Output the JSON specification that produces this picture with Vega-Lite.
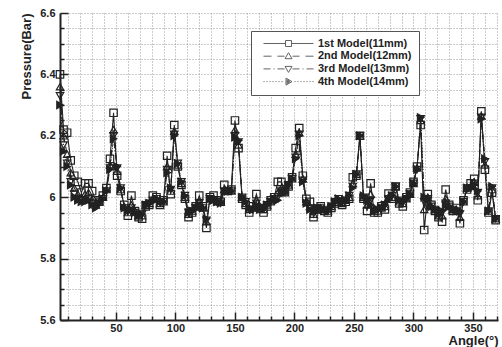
{
  "$schema": "https://vega.github.io/schema/vega-lite/v6.json",
  "width": 438,
  "height": 307,
  "autosize": {"type": "none"},
  "padding": {"left": 60, "top": 13, "right": 4, "bottom": 27},
  "background": "white",
  "config": {"view": {"stroke": null}, "font": "Liberation Sans"},
  "data": {
    "values": [
      {"a":3,"m":"1st Model(11mm)","p":6.40},{"a":6,"m":"1st Model(11mm)","p":6.22},{"a":9,"m":"1st Model(11mm)","p":6.21},{"a":12,"m":"1st Model(11mm)","p":6.12},{"a":15,"m":"1st Model(11mm)","p":6.07},{"a":18,"m":"1st Model(11mm)","p":6.05},{"a":21,"m":"1st Model(11mm)","p":6.015},{"a":24,"m":"1st Model(11mm)","p":6.045},{"a":27,"m":"1st Model(11mm)","p":6.045},{"a":30,"m":"1st Model(11mm)","p":6.02},{"a":33,"m":"1st Model(11mm)","p":5.99},{"a":36,"m":"1st Model(11mm)","p":5.985},{"a":39,"m":"1st Model(11mm)","p":6.005},{"a":42,"m":"1st Model(11mm)","p":6.03},{"a":45,"m":"1st Model(11mm)","p":6.125},{"a":48,"m":"1st Model(11mm)","p":6.275},{"a":51,"m":"1st Model(11mm)","p":6.07},{"a":54,"m":"1st Model(11mm)","p":6.02},{"a":57,"m":"1st Model(11mm)","p":5.975},{"a":60,"m":"1st Model(11mm)","p":5.94},{"a":63,"m":"1st Model(11mm)","p":6.005},{"a":66,"m":"1st Model(11mm)","p":5.955},{"a":69,"m":"1st Model(11mm)","p":5.935},{"a":72,"m":"1st Model(11mm)","p":5.93},{"a":75,"m":"1st Model(11mm)","p":5.97},{"a":78,"m":"1st Model(11mm)","p":5.975},{"a":81,"m":"1st Model(11mm)","p":6.005},{"a":84,"m":"1st Model(11mm)","p":6.0},{"a":87,"m":"1st Model(11mm)","p":5.975},{"a":90,"m":"1st Model(11mm)","p":5.99},{"a":93,"m":"1st Model(11mm)","p":6.135},{"a":96,"m":"1st Model(11mm)","p":6.01},{"a":99,"m":"1st Model(11mm)","p":6.235},{"a":102,"m":"1st Model(11mm)","p":6.10},{"a":105,"m":"1st Model(11mm)","p":6.04},{"a":108,"m":"1st Model(11mm)","p":5.995},{"a":111,"m":"1st Model(11mm)","p":5.935},{"a":114,"m":"1st Model(11mm)","p":5.95},{"a":117,"m":"1st Model(11mm)","p":5.97},{"a":120,"m":"1st Model(11mm)","p":6.005},{"a":123,"m":"1st Model(11mm)","p":5.97},{"a":126,"m":"1st Model(11mm)","p":5.90},{"a":129,"m":"1st Model(11mm)","p":6.0},{"a":132,"m":"1st Model(11mm)","p":6.005},{"a":135,"m":"1st Model(11mm)","p":5.99},{"a":138,"m":"1st Model(11mm)","p":5.985},{"a":141,"m":"1st Model(11mm)","p":6.04},{"a":144,"m":"1st Model(11mm)","p":6.02},{"a":147,"m":"1st Model(11mm)","p":6.025},{"a":150,"m":"1st Model(11mm)","p":6.25},{"a":153,"m":"1st Model(11mm)","p":6.16},{"a":156,"m":"1st Model(11mm)","p":5.995},{"a":159,"m":"1st Model(11mm)","p":5.975},{"a":162,"m":"1st Model(11mm)","p":5.95},{"a":165,"m":"1st Model(11mm)","p":5.97},{"a":168,"m":"1st Model(11mm)","p":6.01},{"a":171,"m":"1st Model(11mm)","p":5.965},{"a":174,"m":"1st Model(11mm)","p":5.95},{"a":177,"m":"1st Model(11mm)","p":5.97},{"a":180,"m":"1st Model(11mm)","p":5.99},{"a":183,"m":"1st Model(11mm)","p":6.0},{"a":186,"m":"1st Model(11mm)","p":6.05},{"a":189,"m":"1st Model(11mm)","p":6.05},{"a":192,"m":"1st Model(11mm)","p":6.02},{"a":195,"m":"1st Model(11mm)","p":6.035},{"a":198,"m":"1st Model(11mm)","p":6.065},{"a":201,"m":"1st Model(11mm)","p":6.16},{"a":204,"m":"1st Model(11mm)","p":6.225},{"a":207,"m":"1st Model(11mm)","p":6.07},{"a":210,"m":"1st Model(11mm)","p":5.995},{"a":213,"m":"1st Model(11mm)","p":5.985},{"a":216,"m":"1st Model(11mm)","p":5.935},{"a":219,"m":"1st Model(11mm)","p":5.96},{"a":222,"m":"1st Model(11mm)","p":5.97},{"a":225,"m":"1st Model(11mm)","p":5.955},{"a":228,"m":"1st Model(11mm)","p":5.95},{"a":231,"m":"1st Model(11mm)","p":5.965},{"a":234,"m":"1st Model(11mm)","p":5.98},{"a":237,"m":"1st Model(11mm)","p":5.985},{"a":240,"m":"1st Model(11mm)","p":5.975},{"a":243,"m":"1st Model(11mm)","p":5.985},{"a":246,"m":"1st Model(11mm)","p":5.995},{"a":249,"m":"1st Model(11mm)","p":6.065},{"a":252,"m":"1st Model(11mm)","p":6.07},{"a":255,"m":"1st Model(11mm)","p":6.20},{"a":258,"m":"1st Model(11mm)","p":5.995},{"a":261,"m":"1st Model(11mm)","p":5.955},{"a":264,"m":"1st Model(11mm)","p":6.045},{"a":267,"m":"1st Model(11mm)","p":5.95},{"a":270,"m":"1st Model(11mm)","p":5.95},{"a":273,"m":"1st Model(11mm)","p":5.97},{"a":276,"m":"1st Model(11mm)","p":5.96},{"a":279,"m":"1st Model(11mm)","p":6.012},{"a":282,"m":"1st Model(11mm)","p":5.995},{"a":285,"m":"1st Model(11mm)","p":6.035},{"a":288,"m":"1st Model(11mm)","p":5.98},{"a":291,"m":"1st Model(11mm)","p":5.97},{"a":294,"m":"1st Model(11mm)","p":6.0},{"a":297,"m":"1st Model(11mm)","p":6.015},{"a":300,"m":"1st Model(11mm)","p":6.05},{"a":303,"m":"1st Model(11mm)","p":6.10},{"a":306,"m":"1st Model(11mm)","p":6.235},{"a":309,"m":"1st Model(11mm)","p":5.893},{"a":312,"m":"1st Model(11mm)","p":6.01},{"a":315,"m":"1st Model(11mm)","p":5.975},{"a":318,"m":"1st Model(11mm)","p":5.955},{"a":321,"m":"1st Model(11mm)","p":5.935},{"a":324,"m":"1st Model(11mm)","p":5.92},{"a":327,"m":"1st Model(11mm)","p":6.025},{"a":330,"m":"1st Model(11mm)","p":5.975},{"a":333,"m":"1st Model(11mm)","p":5.955},{"a":336,"m":"1st Model(11mm)","p":5.965},{"a":339,"m":"1st Model(11mm)","p":5.915},{"a":342,"m":"1st Model(11mm)","p":5.99},{"a":345,"m":"1st Model(11mm)","p":6.025},{"a":348,"m":"1st Model(11mm)","p":6.045},{"a":351,"m":"1st Model(11mm)","p":6.06},{"a":354,"m":"1st Model(11mm)","p":5.99},{"a":357,"m":"1st Model(11mm)","p":6.28},{"a":360,"m":"1st Model(11mm)","p":6.09},{"a":363,"m":"1st Model(11mm)","p":5.95},{"a":366,"m":"1st Model(11mm)","p":6.015},{"a":369,"m":"1st Model(11mm)","p":5.925},

      {"a":3,"m":"2nd Model(12mm)","p":6.36},{"a":6,"m":"2nd Model(12mm)","p":6.20},{"a":9,"m":"2nd Model(12mm)","p":6.14},{"a":12,"m":"2nd Model(12mm)","p":6.08},{"a":15,"m":"2nd Model(12mm)","p":6.03},{"a":18,"m":"2nd Model(12mm)","p":6.01},{"a":21,"m":"2nd Model(12mm)","p":6.0},{"a":24,"m":"2nd Model(12mm)","p":6.01},{"a":27,"m":"2nd Model(12mm)","p":6.015},{"a":30,"m":"2nd Model(12mm)","p":5.99},{"a":33,"m":"2nd Model(12mm)","p":5.975},{"a":36,"m":"2nd Model(12mm)","p":5.985},{"a":39,"m":"2nd Model(12mm)","p":6.0},{"a":42,"m":"2nd Model(12mm)","p":6.025},{"a":45,"m":"2nd Model(12mm)","p":6.105},{"a":48,"m":"2nd Model(12mm)","p":6.22},{"a":51,"m":"2nd Model(12mm)","p":6.085},{"a":54,"m":"2nd Model(12mm)","p":6.025},{"a":57,"m":"2nd Model(12mm)","p":5.97},{"a":60,"m":"2nd Model(12mm)","p":5.95},{"a":63,"m":"2nd Model(12mm)","p":5.975},{"a":66,"m":"2nd Model(12mm)","p":5.955},{"a":69,"m":"2nd Model(12mm)","p":5.94},{"a":72,"m":"2nd Model(12mm)","p":5.94},{"a":75,"m":"2nd Model(12mm)","p":5.975},{"a":78,"m":"2nd Model(12mm)","p":5.98},{"a":81,"m":"2nd Model(12mm)","p":5.995},{"a":84,"m":"2nd Model(12mm)","p":5.995},{"a":87,"m":"2nd Model(12mm)","p":5.98},{"a":90,"m":"2nd Model(12mm)","p":5.985},{"a":93,"m":"2nd Model(12mm)","p":6.10},{"a":96,"m":"2nd Model(12mm)","p":6.02},{"a":99,"m":"2nd Model(12mm)","p":6.215},{"a":102,"m":"2nd Model(12mm)","p":6.105},{"a":105,"m":"2nd Model(12mm)","p":6.045},{"a":108,"m":"2nd Model(12mm)","p":6.0},{"a":111,"m":"2nd Model(12mm)","p":5.945},{"a":114,"m":"2nd Model(12mm)","p":5.955},{"a":117,"m":"2nd Model(12mm)","p":5.97},{"a":120,"m":"2nd Model(12mm)","p":5.985},{"a":123,"m":"2nd Model(12mm)","p":5.965},{"a":126,"m":"2nd Model(12mm)","p":5.92},{"a":129,"m":"2nd Model(12mm)","p":5.995},{"a":132,"m":"2nd Model(12mm)","p":5.995},{"a":135,"m":"2nd Model(12mm)","p":5.985},{"a":138,"m":"2nd Model(12mm)","p":5.985},{"a":141,"m":"2nd Model(12mm)","p":6.025},{"a":144,"m":"2nd Model(12mm)","p":6.02},{"a":147,"m":"2nd Model(12mm)","p":6.02},{"a":150,"m":"2nd Model(12mm)","p":6.22},{"a":153,"m":"2nd Model(12mm)","p":6.17},{"a":156,"m":"2nd Model(12mm)","p":6.0},{"a":159,"m":"2nd Model(12mm)","p":5.98},{"a":162,"m":"2nd Model(12mm)","p":5.96},{"a":165,"m":"2nd Model(12mm)","p":5.965},{"a":168,"m":"2nd Model(12mm)","p":5.99},{"a":171,"m":"2nd Model(12mm)","p":5.965},{"a":174,"m":"2nd Model(12mm)","p":5.96},{"a":177,"m":"2nd Model(12mm)","p":5.975},{"a":180,"m":"2nd Model(12mm)","p":5.985},{"a":183,"m":"2nd Model(12mm)","p":5.995},{"a":186,"m":"2nd Model(12mm)","p":6.015},{"a":189,"m":"2nd Model(12mm)","p":6.03},{"a":192,"m":"2nd Model(12mm)","p":6.015},{"a":195,"m":"2nd Model(12mm)","p":6.04},{"a":198,"m":"2nd Model(12mm)","p":6.06},{"a":201,"m":"2nd Model(12mm)","p":6.14},{"a":204,"m":"2nd Model(12mm)","p":6.21},{"a":207,"m":"2nd Model(12mm)","p":6.06},{"a":210,"m":"2nd Model(12mm)","p":5.985},{"a":213,"m":"2nd Model(12mm)","p":5.97},{"a":216,"m":"2nd Model(12mm)","p":5.945},{"a":219,"m":"2nd Model(12mm)","p":5.96},{"a":222,"m":"2nd Model(12mm)","p":5.965},{"a":225,"m":"2nd Model(12mm)","p":5.96},{"a":228,"m":"2nd Model(12mm)","p":5.955},{"a":231,"m":"2nd Model(12mm)","p":5.97},{"a":234,"m":"2nd Model(12mm)","p":5.985},{"a":237,"m":"2nd Model(12mm)","p":5.99},{"a":240,"m":"2nd Model(12mm)","p":5.98},{"a":243,"m":"2nd Model(12mm)","p":5.99},{"a":246,"m":"2nd Model(12mm)","p":6.0},{"a":249,"m":"2nd Model(12mm)","p":6.045},{"a":252,"m":"2nd Model(12mm)","p":6.075},{"a":255,"m":"2nd Model(12mm)","p":6.20},{"a":258,"m":"2nd Model(12mm)","p":6.0},{"a":261,"m":"2nd Model(12mm)","p":5.975},{"a":264,"m":"2nd Model(12mm)","p":6.01},{"a":267,"m":"2nd Model(12mm)","p":5.955},{"a":270,"m":"2nd Model(12mm)","p":5.955},{"a":273,"m":"2nd Model(12mm)","p":5.965},{"a":276,"m":"2nd Model(12mm)","p":5.97},{"a":279,"m":"2nd Model(12mm)","p":6.0},{"a":282,"m":"2nd Model(12mm)","p":6.0},{"a":285,"m":"2nd Model(12mm)","p":6.035},{"a":288,"m":"2nd Model(12mm)","p":5.985},{"a":291,"m":"2nd Model(12mm)","p":5.98},{"a":294,"m":"2nd Model(12mm)","p":5.995},{"a":297,"m":"2nd Model(12mm)","p":6.01},{"a":300,"m":"2nd Model(12mm)","p":6.045},{"a":303,"m":"2nd Model(12mm)","p":6.095},{"a":306,"m":"2nd Model(12mm)","p":6.25},{"a":309,"m":"2nd Model(12mm)","p":5.96},{"a":312,"m":"2nd Model(12mm)","p":6.0},{"a":315,"m":"2nd Model(12mm)","p":5.97},{"a":318,"m":"2nd Model(12mm)","p":5.96},{"a":321,"m":"2nd Model(12mm)","p":5.94},{"a":324,"m":"2nd Model(12mm)","p":5.94},{"a":327,"m":"2nd Model(12mm)","p":5.995},{"a":330,"m":"2nd Model(12mm)","p":5.97},{"a":333,"m":"2nd Model(12mm)","p":5.96},{"a":336,"m":"2nd Model(12mm)","p":5.96},{"a":339,"m":"2nd Model(12mm)","p":5.935},{"a":342,"m":"2nd Model(12mm)","p":5.985},{"a":345,"m":"2nd Model(12mm)","p":6.03},{"a":348,"m":"2nd Model(12mm)","p":6.035},{"a":351,"m":"2nd Model(12mm)","p":6.05},{"a":354,"m":"2nd Model(12mm)","p":6.005},{"a":357,"m":"2nd Model(12mm)","p":6.265},{"a":360,"m":"2nd Model(12mm)","p":6.105},{"a":363,"m":"2nd Model(12mm)","p":5.955},{"a":366,"m":"2nd Model(12mm)","p":6.025},{"a":369,"m":"2nd Model(12mm)","p":5.93},

      {"a":3,"m":"3rd Model(13mm)","p":6.33},{"a":6,"m":"3rd Model(13mm)","p":6.17},{"a":9,"m":"3rd Model(13mm)","p":6.11},{"a":12,"m":"3rd Model(13mm)","p":6.05},{"a":15,"m":"3rd Model(13mm)","p":6.01},{"a":18,"m":"3rd Model(13mm)","p":5.995},{"a":21,"m":"3rd Model(13mm)","p":5.99},{"a":24,"m":"3rd Model(13mm)","p":5.99},{"a":27,"m":"3rd Model(13mm)","p":5.995},{"a":30,"m":"3rd Model(13mm)","p":5.98},{"a":33,"m":"3rd Model(13mm)","p":5.97},{"a":36,"m":"3rd Model(13mm)","p":5.98},{"a":39,"m":"3rd Model(13mm)","p":5.995},{"a":42,"m":"3rd Model(13mm)","p":6.02},{"a":45,"m":"3rd Model(13mm)","p":6.095},{"a":48,"m":"3rd Model(13mm)","p":6.20},{"a":51,"m":"3rd Model(13mm)","p":6.095},{"a":54,"m":"3rd Model(13mm)","p":6.03},{"a":57,"m":"3rd Model(13mm)","p":5.965},{"a":60,"m":"3rd Model(13mm)","p":5.955},{"a":63,"m":"3rd Model(13mm)","p":5.965},{"a":66,"m":"3rd Model(13mm)","p":5.95},{"a":69,"m":"3rd Model(13mm)","p":5.94},{"a":72,"m":"3rd Model(13mm)","p":5.945},{"a":75,"m":"3rd Model(13mm)","p":5.975},{"a":78,"m":"3rd Model(13mm)","p":5.98},{"a":81,"m":"3rd Model(13mm)","p":5.99},{"a":84,"m":"3rd Model(13mm)","p":5.995},{"a":87,"m":"3rd Model(13mm)","p":5.985},{"a":90,"m":"3rd Model(13mm)","p":5.985},{"a":93,"m":"3rd Model(13mm)","p":6.09},{"a":96,"m":"3rd Model(13mm)","p":6.025},{"a":99,"m":"3rd Model(13mm)","p":6.205},{"a":102,"m":"3rd Model(13mm)","p":6.11},{"a":105,"m":"3rd Model(13mm)","p":6.05},{"a":108,"m":"3rd Model(13mm)","p":6.005},{"a":111,"m":"3rd Model(13mm)","p":5.95},{"a":114,"m":"3rd Model(13mm)","p":5.955},{"a":117,"m":"3rd Model(13mm)","p":5.965},{"a":120,"m":"3rd Model(13mm)","p":5.98},{"a":123,"m":"3rd Model(13mm)","p":5.965},{"a":126,"m":"3rd Model(13mm)","p":5.925},{"a":129,"m":"3rd Model(13mm)","p":5.995},{"a":132,"m":"3rd Model(13mm)","p":5.99},{"a":135,"m":"3rd Model(13mm)","p":5.985},{"a":138,"m":"3rd Model(13mm)","p":5.98},{"a":141,"m":"3rd Model(13mm)","p":6.02},{"a":144,"m":"3rd Model(13mm)","p":6.02},{"a":147,"m":"3rd Model(13mm)","p":6.02},{"a":150,"m":"3rd Model(13mm)","p":6.20},{"a":153,"m":"3rd Model(13mm)","p":6.18},{"a":156,"m":"3rd Model(13mm)","p":6.0},{"a":159,"m":"3rd Model(13mm)","p":5.985},{"a":162,"m":"3rd Model(13mm)","p":5.96},{"a":165,"m":"3rd Model(13mm)","p":5.96},{"a":168,"m":"3rd Model(13mm)","p":5.98},{"a":171,"m":"3rd Model(13mm)","p":5.96},{"a":174,"m":"3rd Model(13mm)","p":5.965},{"a":177,"m":"3rd Model(13mm)","p":5.975},{"a":180,"m":"3rd Model(13mm)","p":5.985},{"a":183,"m":"3rd Model(13mm)","p":5.995},{"a":186,"m":"3rd Model(13mm)","p":6.0},{"a":189,"m":"3rd Model(13mm)","p":6.02},{"a":192,"m":"3rd Model(13mm)","p":6.015},{"a":195,"m":"3rd Model(13mm)","p":6.04},{"a":198,"m":"3rd Model(13mm)","p":6.06},{"a":201,"m":"3rd Model(13mm)","p":6.13},{"a":204,"m":"3rd Model(13mm)","p":6.205},{"a":207,"m":"3rd Model(13mm)","p":6.055},{"a":210,"m":"3rd Model(13mm)","p":5.98},{"a":213,"m":"3rd Model(13mm)","p":5.965},{"a":216,"m":"3rd Model(13mm)","p":5.95},{"a":219,"m":"3rd Model(13mm)","p":5.965},{"a":222,"m":"3rd Model(13mm)","p":5.965},{"a":225,"m":"3rd Model(13mm)","p":5.96},{"a":228,"m":"3rd Model(13mm)","p":5.955},{"a":231,"m":"3rd Model(13mm)","p":5.97},{"a":234,"m":"3rd Model(13mm)","p":5.985},{"a":237,"m":"3rd Model(13mm)","p":5.995},{"a":240,"m":"3rd Model(13mm)","p":5.985},{"a":243,"m":"3rd Model(13mm)","p":5.99},{"a":246,"m":"3rd Model(13mm)","p":6.005},{"a":249,"m":"3rd Model(13mm)","p":6.035},{"a":252,"m":"3rd Model(13mm)","p":6.075},{"a":255,"m":"3rd Model(13mm)","p":6.20},{"a":258,"m":"3rd Model(13mm)","p":6.0},{"a":261,"m":"3rd Model(13mm)","p":5.985},{"a":264,"m":"3rd Model(13mm)","p":5.99},{"a":267,"m":"3rd Model(13mm)","p":5.955},{"a":270,"m":"3rd Model(13mm)","p":5.96},{"a":273,"m":"3rd Model(13mm)","p":5.965},{"a":276,"m":"3rd Model(13mm)","p":5.975},{"a":279,"m":"3rd Model(13mm)","p":5.995},{"a":282,"m":"3rd Model(13mm)","p":6.005},{"a":285,"m":"3rd Model(13mm)","p":6.035},{"a":288,"m":"3rd Model(13mm)","p":5.99},{"a":291,"m":"3rd Model(13mm)","p":5.985},{"a":294,"m":"3rd Model(13mm)","p":5.995},{"a":297,"m":"3rd Model(13mm)","p":6.01},{"a":300,"m":"3rd Model(13mm)","p":6.045},{"a":303,"m":"3rd Model(13mm)","p":6.09},{"a":306,"m":"3rd Model(13mm)","p":6.255},{"a":309,"m":"3rd Model(13mm)","p":5.985},{"a":312,"m":"3rd Model(13mm)","p":5.995},{"a":315,"m":"3rd Model(13mm)","p":5.97},{"a":318,"m":"3rd Model(13mm)","p":5.96},{"a":321,"m":"3rd Model(13mm)","p":5.945},{"a":324,"m":"3rd Model(13mm)","p":5.95},{"a":327,"m":"3rd Model(13mm)","p":5.98},{"a":330,"m":"3rd Model(13mm)","p":5.97},{"a":333,"m":"3rd Model(13mm)","p":5.96},{"a":336,"m":"3rd Model(13mm)","p":5.955},{"a":339,"m":"3rd Model(13mm)","p":5.945},{"a":342,"m":"3rd Model(13mm)","p":5.985},{"a":345,"m":"3rd Model(13mm)","p":6.03},{"a":348,"m":"3rd Model(13mm)","p":6.03},{"a":351,"m":"3rd Model(13mm)","p":6.045},{"a":354,"m":"3rd Model(13mm)","p":6.015},{"a":357,"m":"3rd Model(13mm)","p":6.26},{"a":360,"m":"3rd Model(13mm)","p":6.115},{"a":363,"m":"3rd Model(13mm)","p":5.955},{"a":366,"m":"3rd Model(13mm)","p":6.03},{"a":369,"m":"3rd Model(13mm)","p":5.93},

      {"a":3,"m":"4th Model(14mm)","p":6.30},{"a":6,"m":"4th Model(14mm)","p":6.15},{"a":9,"m":"4th Model(14mm)","p":6.10},{"a":12,"m":"4th Model(14mm)","p":6.04},{"a":15,"m":"4th Model(14mm)","p":6.00},{"a":18,"m":"4th Model(14mm)","p":5.99},{"a":21,"m":"4th Model(14mm)","p":5.985},{"a":24,"m":"4th Model(14mm)","p":5.985},{"a":27,"m":"4th Model(14mm)","p":5.99},{"a":30,"m":"4th Model(14mm)","p":5.975},{"a":33,"m":"4th Model(14mm)","p":5.965},{"a":36,"m":"4th Model(14mm)","p":5.98},{"a":39,"m":"4th Model(14mm)","p":5.995},{"a":42,"m":"4th Model(14mm)","p":6.02},{"a":45,"m":"4th Model(14mm)","p":6.09},{"a":48,"m":"4th Model(14mm)","p":6.19},{"a":51,"m":"4th Model(14mm)","p":6.10},{"a":54,"m":"4th Model(14mm)","p":6.03},{"a":57,"m":"4th Model(14mm)","p":5.965},{"a":60,"m":"4th Model(14mm)","p":5.955},{"a":63,"m":"4th Model(14mm)","p":5.96},{"a":66,"m":"4th Model(14mm)","p":5.95},{"a":69,"m":"4th Model(14mm)","p":5.94},{"a":72,"m":"4th Model(14mm)","p":5.945},{"a":75,"m":"4th Model(14mm)","p":5.975},{"a":78,"m":"4th Model(14mm)","p":5.98},{"a":81,"m":"4th Model(14mm)","p":5.985},{"a":84,"m":"4th Model(14mm)","p":5.995},{"a":87,"m":"4th Model(14mm)","p":5.985},{"a":90,"m":"4th Model(14mm)","p":5.985},{"a":93,"m":"4th Model(14mm)","p":6.08},{"a":96,"m":"4th Model(14mm)","p":6.03},{"a":99,"m":"4th Model(14mm)","p":6.20},{"a":102,"m":"4th Model(14mm)","p":6.11},{"a":105,"m":"4th Model(14mm)","p":6.05},{"a":108,"m":"4th Model(14mm)","p":6.005},{"a":111,"m":"4th Model(14mm)","p":5.95},{"a":114,"m":"4th Model(14mm)","p":5.955},{"a":117,"m":"4th Model(14mm)","p":5.965},{"a":120,"m":"4th Model(14mm)","p":5.975},{"a":123,"m":"4th Model(14mm)","p":5.965},{"a":126,"m":"4th Model(14mm)","p":5.93},{"a":129,"m":"4th Model(14mm)","p":5.995},{"a":132,"m":"4th Model(14mm)","p":5.99},{"a":135,"m":"4th Model(14mm)","p":5.985},{"a":138,"m":"4th Model(14mm)","p":5.98},{"a":141,"m":"4th Model(14mm)","p":6.015},{"a":144,"m":"4th Model(14mm)","p":6.02},{"a":147,"m":"4th Model(14mm)","p":6.02},{"a":150,"m":"4th Model(14mm)","p":6.195},{"a":153,"m":"4th Model(14mm)","p":6.185},{"a":156,"m":"4th Model(14mm)","p":6.00},{"a":159,"m":"4th Model(14mm)","p":5.985},{"a":162,"m":"4th Model(14mm)","p":5.965},{"a":165,"m":"4th Model(14mm)","p":5.96},{"a":168,"m":"4th Model(14mm)","p":5.975},{"a":171,"m":"4th Model(14mm)","p":5.96},{"a":174,"m":"4th Model(14mm)","p":5.965},{"a":177,"m":"4th Model(14mm)","p":5.975},{"a":180,"m":"4th Model(14mm)","p":5.985},{"a":183,"m":"4th Model(14mm)","p":5.995},{"a":186,"m":"4th Model(14mm)","p":5.99},{"a":189,"m":"4th Model(14mm)","p":6.015},{"a":192,"m":"4th Model(14mm)","p":6.015},{"a":195,"m":"4th Model(14mm)","p":6.04},{"a":198,"m":"4th Model(14mm)","p":6.06},{"a":201,"m":"4th Model(14mm)","p":6.125},{"a":204,"m":"4th Model(14mm)","p":6.20},{"a":207,"m":"4th Model(14mm)","p":6.05},{"a":210,"m":"4th Model(14mm)","p":5.98},{"a":213,"m":"4th Model(14mm)","p":5.96},{"a":216,"m":"4th Model(14mm)","p":5.955},{"a":219,"m":"4th Model(14mm)","p":5.965},{"a":222,"m":"4th Model(14mm)","p":5.965},{"a":225,"m":"4th Model(14mm)","p":5.96},{"a":228,"m":"4th Model(14mm)","p":5.955},{"a":231,"m":"4th Model(14mm)","p":5.97},{"a":234,"m":"4th Model(14mm)","p":5.985},{"a":237,"m":"4th Model(14mm)","p":5.995},{"a":240,"m":"4th Model(14mm)","p":5.985},{"a":243,"m":"4th Model(14mm)","p":5.99},{"a":246,"m":"4th Model(14mm)","p":6.005},{"a":249,"m":"4th Model(14mm)","p":6.03},{"a":252,"m":"4th Model(14mm)","p":6.075},{"a":255,"m":"4th Model(14mm)","p":6.20},{"a":258,"m":"4th Model(14mm)","p":6.005},{"a":261,"m":"4th Model(14mm)","p":5.99},{"a":264,"m":"4th Model(14mm)","p":5.975},{"a":267,"m":"4th Model(14mm)","p":5.955},{"a":270,"m":"4th Model(14mm)","p":5.96},{"a":273,"m":"4th Model(14mm)","p":5.965},{"a":276,"m":"4th Model(14mm)","p":5.975},{"a":279,"m":"4th Model(14mm)","p":5.99},{"a":282,"m":"4th Model(14mm)","p":6.005},{"a":285,"m":"4th Model(14mm)","p":6.035},{"a":288,"m":"4th Model(14mm)","p":5.99},{"a":291,"m":"4th Model(14mm)","p":5.985},{"a":294,"m":"4th Model(14mm)","p":5.995},{"a":297,"m":"4th Model(14mm)","p":6.01},{"a":300,"m":"4th Model(14mm)","p":6.045},{"a":303,"m":"4th Model(14mm)","p":6.09},{"a":306,"m":"4th Model(14mm)","p":6.26},{"a":309,"m":"4th Model(14mm)","p":6.00},{"a":312,"m":"4th Model(14mm)","p":5.995},{"a":315,"m":"4th Model(14mm)","p":5.97},{"a":318,"m":"4th Model(14mm)","p":5.96},{"a":321,"m":"4th Model(14mm)","p":5.945},{"a":324,"m":"4th Model(14mm)","p":5.955},{"a":327,"m":"4th Model(14mm)","p":5.975},{"a":330,"m":"4th Model(14mm)","p":5.97},{"a":333,"m":"4th Model(14mm)","p":5.96},{"a":336,"m":"4th Model(14mm)","p":5.955},{"a":339,"m":"4th Model(14mm)","p":5.955},{"a":342,"m":"4th Model(14mm)","p":5.985},{"a":345,"m":"4th Model(14mm)","p":6.03},{"a":348,"m":"4th Model(14mm)","p":6.03},{"a":351,"m":"4th Model(14mm)","p":6.04},{"a":354,"m":"4th Model(14mm)","p":6.02},{"a":357,"m":"4th Model(14mm)","p":6.255},{"a":360,"m":"4th Model(14mm)","p":6.125},{"a":363,"m":"4th Model(14mm)","p":5.955},{"a":366,"m":"4th Model(14mm)","p":6.035},{"a":369,"m":"4th Model(14mm)","p":5.93}
    ]
  },
  "encoding": {
    "x": {
      "field": "a",
      "type": "quantitative",
      "scale": {"domain": [3, 371], "nice": false, "zero": false},
      "axis": {
        "values": [10,20,30,40,50,60,70,80,90,100,110,120,130,140,150,160,170,180,190,200,210,220,230,240,250,260,270,280,290,300,310,320,330,340,350,360,370],
        "labelExpr": "datum.value % 50 === 0 ? datum.label : ''",
        "tickSize": {"condition": {"test": "datum.value % 50 === 0", "value": -8}, "value": -4},
        "tickColor": "#222",
        "tickWidth": 1.5,
        "labelPadding": 10,
        "labelFont": "Liberation Sans",
        "labelFontSize": 11,
        "labelFontWeight": "bold",
        "labelColor": "#222",
        "labelOverlap": false,
        "labelFlush": false,
        "domainColor": "#222",
        "domainWidth": 2,
        "grid": true,
        "gridColor": "#999",
        "gridDash": [1, 2],
        "gridWidth": 1,
        "title": "Angle(°)",
        "titleFont": "Liberation Sans",
        "titleFontSize": 13,
        "titleFontWeight": "bold",
        "titleColor": "#222",
        "titleX": 438,
        "titleY": 24,
        "titleAlign": "right",
        "titleBaseline": "alphabetic"
      }
    },
    "y": {
      "field": "p",
      "type": "quantitative",
      "scale": {"domain": [5.6, 6.6], "nice": false, "zero": false},
      "axis": {
        "values": [5.6,5.65,5.7,5.75,5.8,5.85,5.9,5.95,6.0,6.05,6.1,6.15,6.2,6.25,6.3,6.35,6.4,6.45,6.5,6.55,6.6],
        "labelExpr": "abs(datum.value*5-round(datum.value*5)) < 0.001 ? toString(round(datum.value*10)/10) : ''",
        "tickSize": {"condition": {"test": "abs(datum.value*5-round(datum.value*5)) < 0.001", "value": -8}, "value": -4},
        "tickColor": "#222",
        "tickWidth": 1.5,
        "labelPadding": 13,
        "labelFont": "Liberation Sans",
        "labelFontSize": 11,
        "labelFontWeight": "bold",
        "labelColor": "#222",
        "labelOverlap": false,
        "labelFlush": false,
        "domainColor": "#222",
        "domainWidth": 2,
        "grid": true,
        "gridColor": "#999",
        "gridDash": [1, 2],
        "gridWidth": 1,
        "title": "Pressure(Bar)",
        "titleFont": "Liberation Sans",
        "titleFontSize": 13,
        "titleFontWeight": "bold",
        "titleColor": "#222",
        "titleX": -34,
        "titleY": 0,
        "titleAngle": -90,
        "titleAlign": "right",
        "titleBaseline": "middle"
      }
    }
  },
  "resolve": {"scale": {"shape": "independent"}, "legend": {"shape": "independent"}},
  "layer": [
    {
      "mark": {"type": "line", "color": "#222", "strokeWidth": 1.1, "clip": false},
      "encoding": {
        "detail": {"field": "m"},
        "strokeDash": {
          "field": "m",
          "type": "nominal",
          "scale": {"range": [[1, 0], [6, 4], [6, 3, 1, 3], [1, 2]]},
          "legend": null
        }
      }
    },
    {
      "mark": {"type": "point", "size": 55, "strokeWidth": 1.2, "opacity": 1, "stroke": "#222"},
      "encoding": {
        "shape": {
          "field": "m",
          "type": "nominal",
          "scale": {"range": ["square", "triangle-up", "triangle-down", "triangle-right"]},
          "legend": null
        },
        "fill": {
          "field": "m",
          "type": "nominal",
          "scale": {"range": ["transparent", "transparent", "transparent", "#222"]},
          "legend": null
        }
      }
    },
    {
      "transform": [{"filter": "false"}],
      "mark": {"type": "point", "color": "#222", "filled": false, "strokeWidth": 1},
      "encoding": {
        "shape": {
          "field": "m",
          "type": "nominal",
          "scale": {
            "domain": ["1st Model(11mm)", "2nd Model(12mm)", "3rd Model(13mm)", "4th Model(14mm)"],
            "range": [
              "M0,0H22M28,0H50M22,-3H28V3H22Z",
              "M0,0H8M14,0H21M29,0H36M42,0H50M25,-3.5L28.5,2.5H21.5Z",
              "M0,0H7M10,0H11M14,0H21M29,0H36M39,0H40M43,0H50M21.5,-2.5H28.5L25,3.5Z",
              "M0,0H1M3,0H4M6,0H7M9,0H10M12,0H13M15,0H16M18,0H19M31,0H32M34,0H35M37,0H38M40,0H41M43,0H44M46,0H47M49,0H50M22.5,-3.5L28.5,0L22.5,3.5ZM23.5,-2L26.5,0L23.5,2ZM24,-0.7L25.2,0L24,0.7Z"
            ]
          },
          "legend": {
            "title": null,
            "orient": "none",
            "legendX": 191,
            "legendY": 18,
            "fillColor": "white",
            "strokeColor": "#555",
            "padding": 7,
            "symbolSize": 4,
            "symbolStrokeWidth": 1,
            "symbolStrokeColor": "#222",
            "symbolFillColor": "white",
            "labelOffset": 49,
            "labelFont": "Liberation Sans",
            "labelFontSize": 11,
            "labelFontWeight": "bold",
            "labelColor": "#222",
            "labelLimit": 0,
            "rowPadding": 0.7,
            "encode": {"legend": {"strokeWidth": {"value": 1.5}}}
          }
        }
      }
    }
  ]
}
